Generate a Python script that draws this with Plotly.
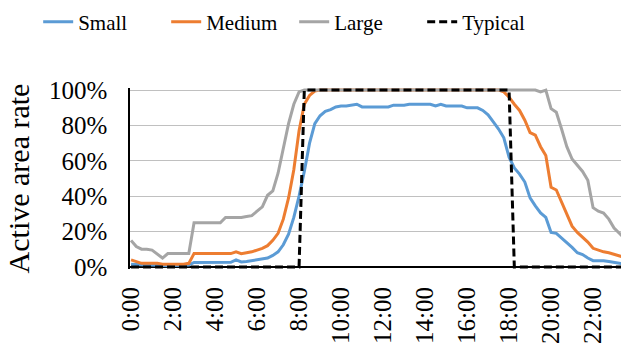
import plotly.graph_objects as go

# time of day in hours, 15-minute samples
hours = [i * 0.25 for i in range(96)]

small = [1.5, 1.2, 1, 1, 1, 0.8, 0.7, 0.7, 0.8, 0.8, 1, 1,
         2.5, 2.5, 2.5, 2.5, 2.5, 2.5, 2.5, 2.6, 4, 2.8, 3, 3.5,
         4, 4.3, 5, 6.5, 8.5, 12.5, 18.5, 28, 40, 54, 70, 81,
         85.5, 88, 89, 90.5, 91, 91, 91.5, 92, 90.5, 90.5, 90.5, 90.5,
         90.5, 90.5, 91.5, 91.5, 91.5, 92, 92, 92, 92, 92, 91, 92,
         91, 91, 91, 91, 90, 90, 90, 88.5, 86, 82, 78, 73,
         62, 56, 52.5, 48, 39, 34.5, 30.5, 28, 19.5, 19, 16.5, 14,
         11, 8, 7, 5, 3.5, 3.5, 3.5, 3, 2.5, 1.8, 1.5, 1.2]

medium = [4, 3, 2, 2, 2, 2, 1.5, 1.5, 1.5, 1.5, 1.5, 2,
          7.5, 7.5, 7.5, 7.5, 7.5, 7.5, 7.5, 7.5, 8.5, 7.5, 8, 8.5,
          9.5, 10.5, 12, 15, 19, 27, 39, 55, 77, 92, 97, 99.5,
          100, 100, 100, 100, 100, 100, 100, 100, 100, 100, 100, 100,
          100, 100, 100, 100, 100, 100, 100, 100, 100, 100, 100, 100,
          100, 100, 100, 100, 100, 100, 100, 100, 100, 100, 100, 99,
          96, 92, 88.5, 83, 76, 74.5, 68, 63, 45, 43.5, 36.5, 29.5,
          23, 19.5, 17, 14, 10.5, 9.5, 8.5, 8, 7, 6, 5, 4.5]

large = [15, 11.5, 10, 10, 9.5, 7, 5, 7.5, 7.5, 7.5, 7.5, 7.5,
         25, 25, 25, 25, 25, 25, 28, 28, 28, 28, 28.5, 29,
         31.5, 34, 40.5, 43, 53, 67, 81, 92, 99, 100, 100, 100,
         100, 100, 100, 100, 100, 100, 100, 100, 100, 100, 100, 100,
         100, 100, 100, 100, 100, 100, 100, 100, 100, 100, 100, 100,
         100, 100, 100, 100, 100, 100, 100, 100, 100, 100, 100, 100,
         100, 100, 100, 100, 100, 100, 99, 100, 89.5, 87.5, 78, 68,
         61, 57.5, 54, 49, 33.5, 31.5, 30.5, 27, 22, 19, 16, 14]

typical = [0] * 33 + [100] * 40 + [0] * 23

x_tick_vals = [0, 2, 4, 6, 8, 10, 12, 14, 16, 18, 20, 22]
x_tick_text = ["0:00", "2:00", "4:00", "6:00", "8:00", "10:00", "12:00",
               "14:00", "16:00", "18:00", "20:00", "22:00"]
y_tick_vals = [0, 20, 40, 60, 80, 100]
y_tick_text = ["0%", "20%", "40%", "60%", "80%", "100%"]

FONT = "Liberation Serif"

fig = go.Figure()
fig.add_trace(go.Scatter(x=hours, y=small, mode="lines", name="Small",
                         line=dict(color="#5b9bd5", width=3)))
fig.add_trace(go.Scatter(x=hours, y=medium, mode="lines", name="Medium",
                         line=dict(color="#ed7d31", width=3)))
fig.add_trace(go.Scatter(x=hours, y=large, mode="lines", name="Large",
                         line=dict(color="#a5a5a5", width=3)))
fig.add_trace(go.Scatter(x=hours, y=typical, mode="lines", name="Typical",
                         line=dict(color="black", width=3, dash="8px,4px")))

fig.update_layout(
    width=621, height=343,
    margin=dict(l=130, r=0, t=88, b=74, autoexpand=False),
    paper_bgcolor="white", plot_bgcolor="white",
    font=dict(family=FONT, color="black", size=22),
    showlegend=True,
    legend=dict(orientation="h", xref="paper", yref="paper",
                x=-0.187, y=1.477, xanchor="left", yanchor="top",
                entrywidth=83, entrywidthmode="pixels",
                font=dict(family=FONT, size=21, color="black"),
                bgcolor="rgba(0,0,0,0)"),
    xaxis=dict(range=[-0.05, 23.33], tickmode="array", tickvals=x_tick_vals,
               ticktext=x_tick_text, tickangle=-90, showgrid=False,
               showline=False, zeroline=False, ticks="", automargin=False,
               ticklabelstandoff=12,
               tickfont=dict(family=FONT, size=25, color="black")),
    yaxis=dict(range=[-1.2, 101.2], tickmode="array",
               tickvals=y_tick_vals, ticktext=y_tick_text,
               showgrid=True, gridcolor="#c0c0c0", gridwidth=1.3,
               showline=True, linecolor="black", linewidth=1.5,
               zeroline=True, zerolinecolor="black", zerolinewidth=1.5,
               ticks="", automargin=False, ticklabelstandoff=16,
               tickfont=dict(family=FONT, size=25, color="black"),
               title=dict(text="Active area rate",
                          font=dict(family=FONT, size=30, color="black"),
                          standoff=10)),
)

fig.write_html("out.html", config={"displayModeBar": False},
               post_script="document.body.style.margin='0';document.body.style.padding='0';")
